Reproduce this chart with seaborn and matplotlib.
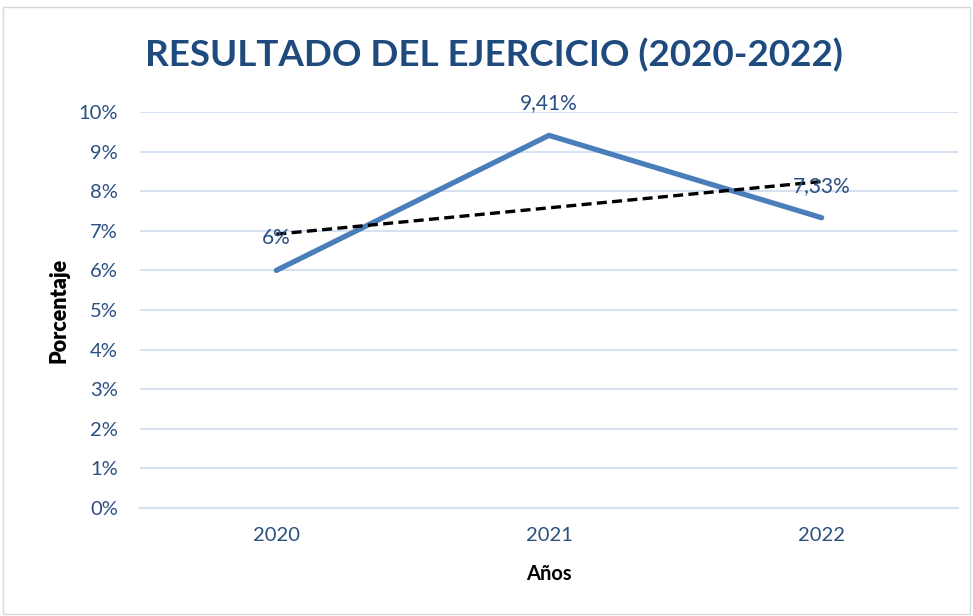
import numpy as np
import pandas as pd
import matplotlib
matplotlib.use("Agg")
import matplotlib.pyplot as plt
import seaborn as sns
from matplotlib.patches import Rectangle

years = ["2020", "2021", "2022"]
values = [6.0, 9.41, 7.33]
value_labels = ["6%", "9,41%", "7,33%"]
y_ticks = [0, 1, 2, 3, 4, 5, 6, 7, 8, 9, 10]
y_tick_labels = [f"{t}%" for t in y_ticks]

sns.set_theme(style="white")
plt.rcParams['font.family'] = ['Lato', 'DejaVu Sans']

df = pd.DataFrame({"year": years, "idx": np.arange(len(years)), "value": values})

fig = plt.figure(figsize=(9.73, 6.16), dpi=100)
fig.patches.append(Rectangle((3/973, 2/616), 967/973, 607/616, transform=fig.transFigure,
                             fill=False, edgecolor="#D9D9D9", linewidth=1))
ax = fig.add_axes([140/973, 1 - 508/616, 818/973, 396/616])

text_blue = "#2A5082"
grid_c = "#D6E1F1"

sns.lineplot(data=df, x="idx", y="value", ax=ax, color="#4A7EBB", linewidth=3.8,
             solid_capstyle="round", zorder=3)
sns.regplot(data=df, x="idx", y="value", ax=ax, scatter=False, ci=None, truncate=True,
            line_kws=dict(color="black", linestyle=(0, (3, 1.6)), linewidth=2.4, zorder=4))

for i, (v, lab) in enumerate(zip(values, value_labels)):
    ax.annotate(lab, (i, v), xytext=(0, 23), textcoords="offset points", ha="center",
                va="center", fontsize=15, color=text_blue, zorder=5)

ax.set_xlim(-0.5, 2.5)
ax.set_ylim(0, 10)
ax.set_yticks(y_ticks)
ax.set_yticklabels(y_tick_labels, fontsize=14.5, color=text_blue)
ax.yaxis.grid(True, color=grid_c, linewidth=1.5)
ax.set_axisbelow(True)
ax.tick_params(axis="y", length=0, pad=16)

ax.set_xticks(range(len(years)))
ax.set_xticklabels(years, fontsize=14.5, color=text_blue)
ax.tick_params(axis="x", length=0, pad=14)
ax.set_xticks([-0.5, 0.5, 1.5, 2.5], minor=True)
ax.tick_params(axis="x", which="minor", length=6, width=1.5, color=grid_c, direction="out")

for s in ["top", "right", "left"]:
    ax.spines[s].set_visible(False)
ax.spines["bottom"].set_color(grid_c)
ax.spines["bottom"].set_linewidth(1.5)

ax.set_xlabel("Años", fontsize=14.5, fontweight="bold", color="black", labelpad=14)
ax.set_ylabel("Porcentaje", fontsize=15.5, fontweight="heavy", color="black", labelpad=6)

fig.text(494/973, 1 - 55/616, "RESULTADO DEL EJERCICIO (2020-2022)", ha="center", va="center",
         fontsize=26.5, fontweight="bold", color="#1F4A7E")

fig.savefig("out.png", dpi=100, facecolor="white")
